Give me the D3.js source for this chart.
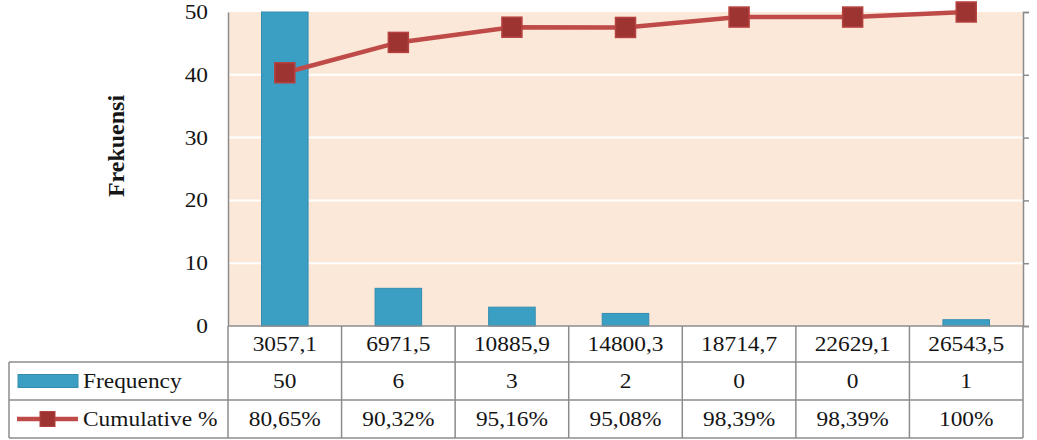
<!DOCTYPE html>
<html>
<head>
<meta charset="utf-8">
<script src="https://cdn.jsdelivr.net/npm/d3@7"></script>
<style>
  body { margin: 0; background: #fff; }
  svg { display: block; }
  svg text { font-family: "Liberation Serif", "Times New Roman", "DejaVu Serif", serif !important; fill: #151515; }
</style>
</head>
<body>
<svg id="chart" width="1037" height="440"></svg>
<script>
// data
const categories = ['3057,1', '6971,5', '10885,9', '14800,3', '18714,7', '22629,1', '26543,5'];
const frequency = [50, 6, 3, 2, 0, 0, 1];
const cumulative = [0.8065, 0.9032, 0.9516, 0.9508, 0.9839, 0.9839, 1.0];
const cumulativeLabels = ['80,65%', '90,32%', '95,16%', '95,08%', '98,39%', '98,39%', '100%'];
const yTicks = [0, 10, 20, 30, 40, 50];
const seriesNames = ['Frequency', 'Cumulative %'];

const svg = d3.select('#chart');
const serif = '"Liberation Serif", "Times New Roman", serif';
const plot = {left: 228, right: 1023, top: 12, bottom: 326};
const rows = [326, 362, 400, 438];
const legendLeft = 9;
const stretch = 1.17;
const barColor = '#3a9fc3', lineColor = '#be4b48', markerFill = '#9e3432', gridStroke = '#8c8c8c';

let x = d3.scaleBand().domain(categories).range([plot.left, plot.right]).padding(0);
let y = d3.scaleLinear().domain([0, 50]).range([plot.bottom, plot.top]);
let yPct = d3.scaleLinear().domain([0, 1]).range([plot.bottom, plot.top]);

// plot background
svg.append('rect')
    .attr('x', plot.left).attr('y', plot.top)
    .attr('width', plot.right - plot.left).attr('height', plot.bottom - plot.top)
    .attr('fill', '#fce8d8');

// gridlines
svg.append('g').selectAll('line')
    .data(yTicks.filter(d => d > 0 && d < 50))
    .enter().append('line')
    .attr('x1', plot.left).attr('x2', plot.right)
    .attr('y1', d => y(d)).attr('y2', d => y(d))
    .attr('stroke', '#ffffff').attr('stroke-width', 2);

// bars
let barW = x.bandwidth() * 0.41;
svg.append('g').selectAll('rect')
    .data(frequency)
    .enter().append('rect')
    .attr('x', (d, i) => x(categories[i]) + (x.bandwidth() - barW) / 2)
    .attr('y', d => y(d))
    .attr('width', barW)
    .attr('height', d => y(0) - y(d))
    .attr('fill', barColor)
    .attr('stroke', '#348db0').attr('stroke-width', 1);

// left axis
let yAxis = d3.axisLeft(y).tickValues(yTicks).tickSize(0).tickPadding(20);
let gy = svg.append('g').attr('transform', 'translate(' + plot.left + ',0)').call(yAxis)
    .attr('font-family', serif);
gy.select('.domain').attr('stroke', gridStroke).attr('stroke-width', 1.5);
gy.selectAll('text')
    .attr('font-size', 20)
    .attr('x', -20 / stretch)
    .attr('dy', '0.32em')
    .attr('transform', 'scale(' + stretch + ',1)')
    .attr('fill', '#151515');

// right axis (no labels)
let yAxisR = d3.axisRight(yPct).ticks(5).tickSize(6).tickSizeOuter(6).tickFormat('');
let gr = svg.append('g').attr('transform', 'translate(' + plot.right + ',0)').call(yAxisR);
gr.selectAll('.domain, line').attr('stroke', gridStroke).attr('stroke-width', 1.5);

// cumulative line
let line = d3.line()
    .x((d, i) => x(categories[i]) + x.bandwidth() / 2)
    .y(d => yPct(d));
svg.append('path')
    .datum(cumulative)
    .attr('d', line)
    .attr('fill', 'none')
    .attr('stroke', lineColor).attr('stroke-width', 4.5);
svg.append('g').selectAll('rect')
    .data(cumulative)
    .enter().append('rect')
    .attr('x', (d, i) => x(categories[i]) + x.bandwidth() / 2 - 10)
    .attr('y', d => yPct(d) - 10)
    .attr('width', 20).attr('height', 20)
    .attr('fill', markerFill)
    .attr('stroke', '#b64240').attr('stroke-width', 1.5);

// y title
svg.append('text')
    .attr('transform', 'translate(124,146) rotate(-90)')
    .attr('text-anchor', 'middle')
    .attr('font-family', serif)
    .attr('font-size', 24).attr('font-weight', 'bold')
    .text('Frekuensi');

// data table
let table = svg.append('g').attr('stroke', gridStroke).attr('stroke-width', 1.5).attr('fill', 'none');
table.append('line').attr('x1', plot.left).attr('x2', plot.right).attr('y1', rows[0]).attr('y2', rows[0]);
table.append('line').attr('x1', legendLeft).attr('x2', plot.right).attr('y1', rows[1]).attr('y2', rows[1]);
table.append('line').attr('x1', legendLeft).attr('x2', plot.right).attr('y1', rows[2]).attr('y2', rows[2]);
table.append('line').attr('x1', legendLeft).attr('x2', plot.right).attr('y1', rows[3]).attr('y2', rows[3]);
table.append('line').attr('x1', legendLeft).attr('x2', legendLeft).attr('y1', rows[1]).attr('y2', rows[3]);
categories.forEach(function(c, i) {
    let xl = x(c);
    table.append('line').attr('x1', xl).attr('x2', xl).attr('y1', rows[0]).attr('y2', rows[3]);
});
table.append('line').attr('x1', plot.right).attr('x2', plot.right).attr('y1', rows[0]).attr('y2', rows[3]);

function cellText(cx, cy, str, anchor) {
    svg.append('g')
        .attr('transform', 'translate(' + cx + ',' + cy + ') scale(' + stretch + ',1)')
        .append('text')
        .attr('text-anchor', anchor || 'middle')
        .attr('dy', '0.35em')
        .attr('font-family', serif)
        .attr('font-size', 20)
        .text(str);
}

let rowMid = [0, 1, 2].map(i => (rows[i] + rows[i + 1]) / 2);
categories.forEach(function(c, i) {
    let cx = x(c) + x.bandwidth() / 2;
    cellText(cx, rowMid[0], c);
    cellText(cx, rowMid[1], frequency[i]);
    cellText(cx, rowMid[2], cumulativeLabels[i]);
});

// legend keys in the table
svg.append('rect')
    .attr('x', 18).attr('y', rowMid[1] - 6.5)
    .attr('width', 60).attr('height', 13)
    .attr('fill', barColor).attr('stroke', '#348db0');
svg.append('line')
    .attr('x1', 17).attr('x2', 78).attr('y1', rowMid[2]).attr('y2', rowMid[2])
    .attr('stroke', lineColor).attr('stroke-width', 4.5);
svg.append('rect')
    .attr('x', 40).attr('y', rowMid[2] - 7.5)
    .attr('width', 15).attr('height', 15)
    .attr('fill', markerFill).attr('stroke', '#b64240');
cellText(83, rowMid[1], seriesNames[0], 'start');
cellText(83, rowMid[2], seriesNames[1], 'start');
</script>
</body>
</html>
